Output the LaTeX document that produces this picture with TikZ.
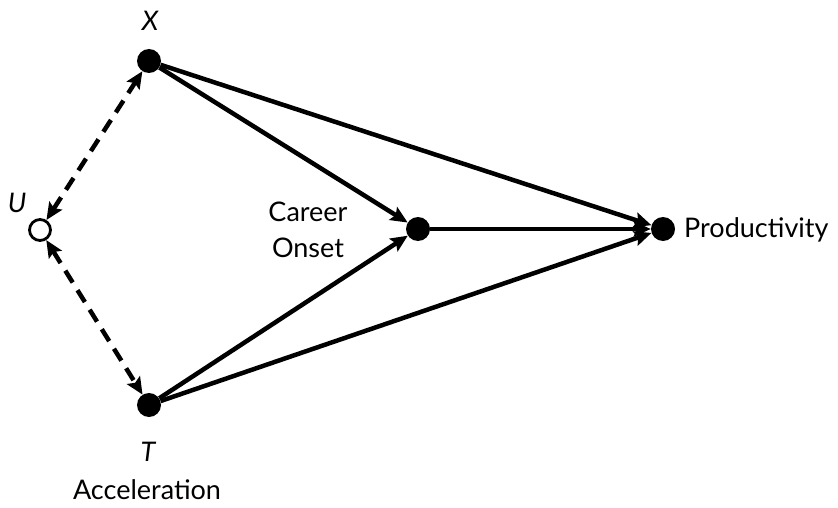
\documentclass[tikz,border=0pt]{standalone}
\usepackage{fontspec}
\setmainfont{Lato}
\usetikzlibrary{arrows.meta}
\begin{document}
\begin{tikzpicture}[x=1pt,y=-1pt,
  filled/.style={circle,fill=black,inner sep=0pt,minimum size=24pt},
  hollow/.style={circle,draw=black,fill=white,line width=2.8pt,inner sep=0pt,minimum size=21pt},
  lbl/.style={font=\fontsize{27}{32}\selectfont,inner sep=0pt},
  edge/.style={line width=4.5pt,-{Stealth[length=17pt,width=15pt,inset=3pt]}},
  dedge/.style={line width=4.5pt,dash pattern=on 14pt off 9pt,{Stealth[length=17pt,width=15pt,inset=3pt]}-{Stealth[length=17pt,width=15pt,inset=3pt]}}
]
\useasboundingbox (0,0) rectangle (838,508);
\node[filled] (X) at (149,61) {};
\node[hollow] (U) at (40,230) {};
\node[filled] (T) at (149,405) {};
\node[filled] (C) at (418,229) {};
\node[filled] (P) at (663,229) {};
\node[lbl,font=\fontsize{27}{32}\selectfont\itshape] (Xl) at (150,21) {X};
\node[lbl,font=\fontsize{27}{32}\selectfont\itshape] (Ul) at (17,203) {U};
\node[lbl,font=\fontsize{27}{32}\selectfont\itshape] (Tl) at (148,452) {T};
\node[lbl] (Al) at (147,490) {Acceleration};
\node[lbl,align=center,font=\fontsize{27}{36}\selectfont] (Cl) at (308,230) {Career\\Onset};
\node[lbl,anchor=west] (Pl) at (684,230) {Productivity};
\draw[dedge] (U) -- (X);
\draw[dedge] (U) -- (T);
\draw[edge] (X) -- (C);
\draw[edge] (X) -- (P);
\draw[edge] (T) -- (C);
\draw[edge] (T) -- (P);
\draw[edge] (C) -- (P);
\end{tikzpicture}
\end{document}
